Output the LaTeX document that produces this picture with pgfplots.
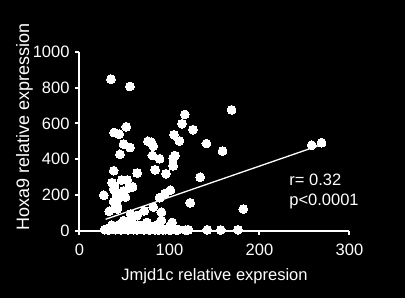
\documentclass[border=0pt]{standalone}
\usepackage{pgfplots}
\pgfplotsset{compat=1.18}
\usepackage{fontspec}
\setmainfont{Liberation Sans}
\newcommand{\lbl}{\fontsize{16.5}{19}\selectfont}
\begin{document}
\begin{tikzpicture}
\fill[black] (-79.5pt,-67.5pt) rectangle (325.5pt,230.5pt);
\begin{axis}[
  at={(0,0)}, anchor=south west,
  scale only axis, width=270pt, height=178.5pt,
  xmin=0, xmax=300, ymin=0, ymax=1000,
  axis lines=left,
  axis line style={-, white, line width=2pt},
  xtick={0,100,200,300}, ytick={0,200,400,600,800,1000},
  tick align=outside, major tick length=4.5pt,
  tick style={white, line width=2pt},
  scaled ticks=false,
  /pgf/number format/1000 sep={},
  /pgf/number format/assume math mode=true,
  tick label style={font=\lbl, text=white},
  xticklabel style={yshift=-5pt},
  yticklabel style={xshift=-2pt},
  xlabel={Jmjd1c relative expresion},
  ylabel={Hoxa9 relative expression},
  xlabel style={font=\lbl, text=white, at={(axis cs:150,0)}, anchor=base, yshift=-50pt},
  ylabel style={font={\fontsize{18}{20}\selectfont}, text=white, at={(rel axis cs:-0.2037,0.579)}, anchor=center},
  clip=false,
]
\addplot[only marks, mark=*, mark size=4.4pt, mark options={fill=white, draw=white, line width=0pt}] coordinates {
(35,848) (56,807) (169,676) (117,650) (114,598) (126,565) (52,581) (38.5,549) (44,540)
(105,536) (111,502) (49,484) (56,465) (76,500) (80,494) (82,472) (141,487) (159,445)
(45,427) (81,420) (89,402) (106,420) (104,405) (104,362)
(38,335) (64,322) (84,340) (96,318) (134,299) (36,268) (47,283) (53,283) (39,250)
(55,240) (59,245) (38,233) (27,198) (41,205) (49,222) (51,187) (56.7,243)
(101,226) (95,207) (89,184)
(123,155) (182,120) (82,131) (72,110) (91,103) (91,57) (103,45) (33,108) (42,121)
(38,162) (43,178) (40,148) (42,138) (57,92) (58,65) (49,55) (64,84) (258,478) (269,492)
(28,5) (30,8) (32,3) (34,10) (36,6) (38,15) (40,4) (42,22) (44,8) (46,3) (48,12)
(50,6) (52,25) (54,4) (56,10) (58,18) (60,5) (62,8) (64,3) (66,12) (68,6) (70,28)
(72,4) (74,10) (76,6) (78,3) (80,8) (82,14) (84,4) (86,6) (88,3) (90,8) (93,4)
(96,5) (99,10) (102,4) (105,6) (108,3) (110,5) (118,3) (121,4) (142,4) (157,3) (176,4)
(36,30) (45,35) (56,38) (65,30) (75,45) (50,20) (62,25) (85,28) (100,20)
};
\addplot[white, line width=1.3pt] coordinates {(29,63) (269,481)};
\node[anchor=base west, text=white, font=\lbl, inner sep=0pt] at (axis cs:233,252) {r= 0.32};
\node[anchor=base west, text=white, font=\lbl, inner sep=0pt] at (axis cs:233,142) {p<0.0001};
\end{axis}
\pgfresetboundingbox
\path (-79.5pt,-67.5pt) rectangle (325.5pt,230.5pt);
\end{tikzpicture}
\end{document}
